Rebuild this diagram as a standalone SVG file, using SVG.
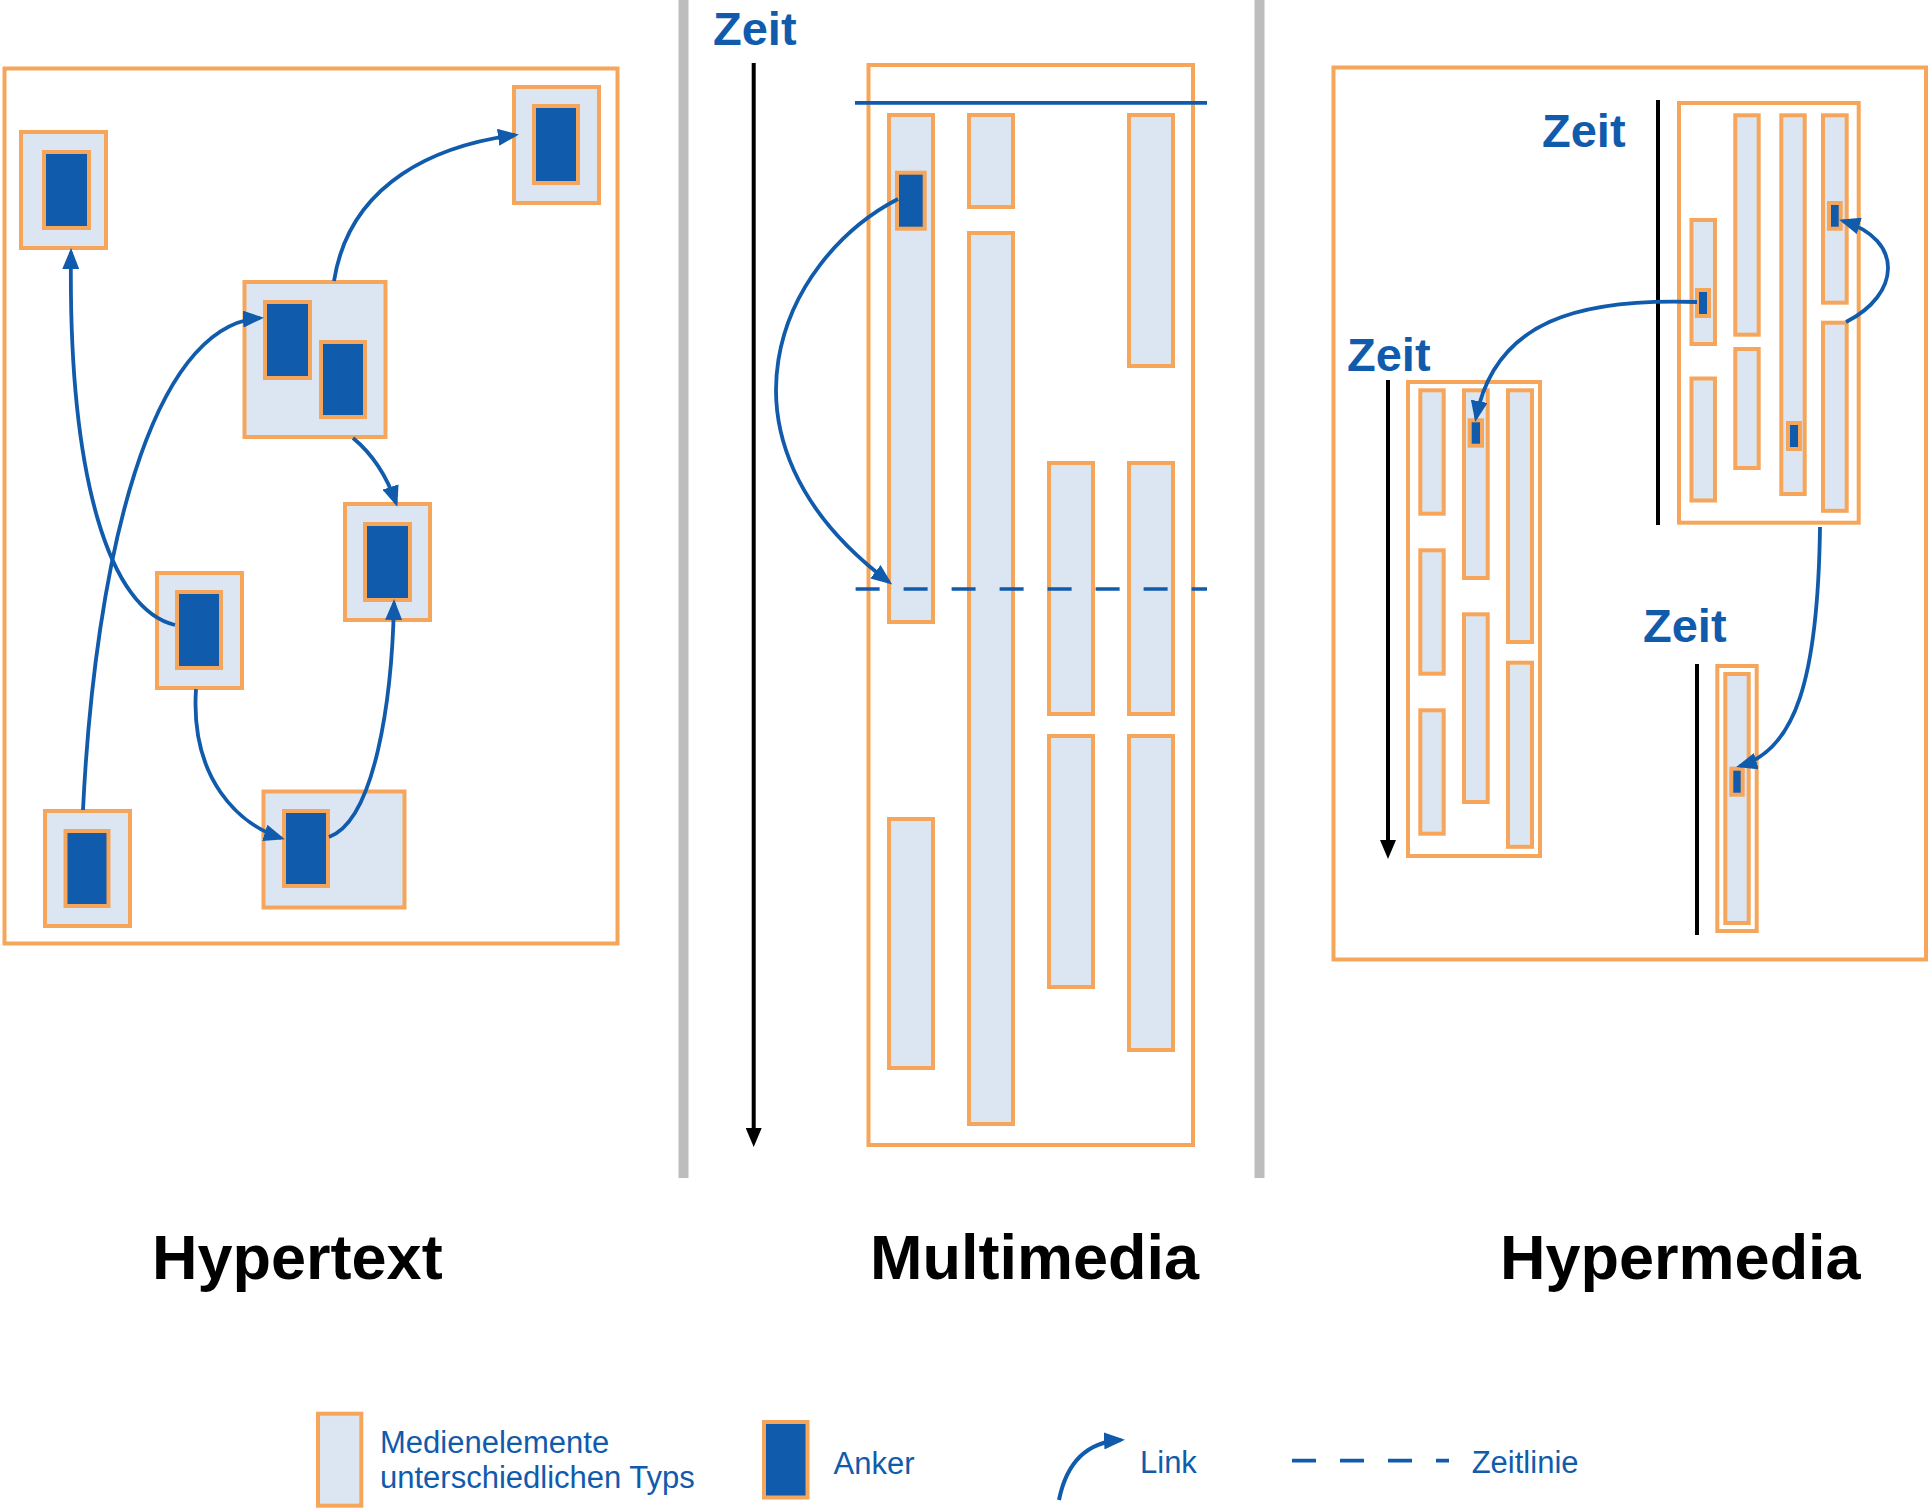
<svg xmlns="http://www.w3.org/2000/svg" width="1930" height="1508" viewBox="0 0 1930 1508">
<style>
.frame{fill:#ffffff;stroke:#f5a65b;stroke-width:4}
.med{fill:#dce6f2;stroke:#f5a65b;stroke-width:4}
.anc{fill:#105bac;stroke:#f5a65b;stroke-width:4}
.link{fill:none;stroke:#105bac;stroke-width:3.8;marker-end:url(#ah)}
.tl{stroke:#000000;stroke-width:4;fill:none}
.zeit{font-family:"Liberation Sans",Arial,sans-serif;font-weight:bold;font-size:47px;fill:#105bac}
.title{font-family:"Liberation Sans",Arial,sans-serif;font-weight:bold;font-size:63px;fill:#000000}
.leg{font-family:"Liberation Sans",Arial,sans-serif;font-size:31px;fill:#105bac}
.sep{fill:#bdbdbd}
</style>
<defs>
<marker id="ah" viewBox="0 0 21 17" refX="17" refY="8.5" markerWidth="21" markerHeight="17" markerUnits="userSpaceOnUse" orient="auto"><path d="M0,0 L21,8.5 L0,17 z" fill="#105bac"/></marker>
<marker id="bh" viewBox="0 0 16 19" refX="8" refY="0" markerWidth="16" markerHeight="19" markerUnits="userSpaceOnUse" orient="0"><path d="M0,0 L16,0 L8,19 z" fill="#000000"/></marker>
</defs>
<rect width="1930" height="1508" fill="#ffffff"/>
<g id="separators">
<rect class="sep" x="678.5" y="0" width="10" height="1178"/>
<rect class="sep" x="1254.5" y="0" width="10" height="1178"/>
</g>

<g id="hypertext">
<rect class="frame" x="4.5" y="68.5" width="613" height="875"/>
<g id="ht-e1"><rect class="med" x="21" y="132" width="85" height="116"/><rect class="anc" x="44" y="152" width="45" height="76"/></g>
<g id="ht-e2"><rect class="med" x="514" y="87" width="85" height="116"/><rect class="anc" x="534" y="106" width="44" height="77"/></g>
<g id="ht-e3"><rect class="med" x="244.5" y="282" width="141" height="155"/><rect class="anc" x="265" y="302" width="45" height="76"/><rect class="anc" x="321" y="342" width="44" height="75"/></g>
<g id="ht-e4"><rect class="med" x="345" y="504" width="85" height="116"/><rect class="anc" x="365" y="524" width="45" height="76"/></g>
<g id="ht-e5"><rect class="med" x="157" y="573" width="85" height="115"/><rect class="anc" x="177" y="592" width="44" height="76"/></g>
<g id="ht-e6"><rect class="med" x="45" y="811" width="85" height="115"/><rect class="anc" x="65.5" y="831" width="43" height="75"/></g>
<g id="ht-e7"><rect class="med" x="263.5" y="791.5" width="141" height="116"/><rect class="anc" x="284" y="811" width="44" height="75"/></g>
<text class="title" x="152" y="1279">Hypertext</text>
</g>

<g id="multimedia">
<rect class="frame" x="868.5" y="65" width="324.5" height="1080"/>
<line class="tl" x1="753.7" y1="63" x2="753.7" y2="1128" marker-end="url(#bh)"/>
<text class="zeit" x="713" y="45">Zeit</text>
<g id="mm-c1"><rect class="med" x="889" y="115" width="44" height="507"/><rect class="med" x="889" y="819" width="44" height="249"/><rect class="anc" x="897" y="172.7" width="27.7" height="56"/></g>
<g id="mm-c2"><rect class="med" x="969" y="115" width="44" height="92"/><rect class="med" x="969" y="233" width="44" height="891"/></g>
<g id="mm-c3"><rect class="med" x="1049" y="463" width="44" height="251"/><rect class="med" x="1049" y="736" width="44" height="251"/></g>
<g id="mm-c4"><rect class="med" x="1129" y="115" width="44" height="251"/><rect class="med" x="1129" y="463" width="44" height="251"/><rect class="med" x="1129" y="736" width="44" height="314"/></g>
<line x1="855" y1="102.8" x2="1207" y2="102.8" stroke="#105bac" stroke-width="3.7"/>
<line x1="855.6" y1="589" x2="1207" y2="589" stroke="#105bac" stroke-width="3.7" stroke-dasharray="24 24"/>
<text class="title" x="870" y="1279">Multimedia</text>
</g>

<g id="hypermedia">
<rect class="frame" x="1333.5" y="67.5" width="592.5" height="892"/>
<g id="hm-top">
<line class="tl" x1="1658" y1="100" x2="1658" y2="525"/>
<text class="zeit" x="1542" y="147">Zeit</text>
<rect class="frame" x="1679" y="103" width="179.7" height="419.7"/>
<rect class="med" x="1691.5" y="220" width="23.5" height="124"/>
<rect class="med" x="1691.5" y="378.5" width="23.5" height="122"/>
<rect class="med" x="1735.3" y="115.3" width="23.4" height="219.4"/>
<rect class="med" x="1735.3" y="349" width="23.4" height="119"/>
<rect class="med" x="1781.3" y="115.3" width="23.4" height="378.7"/>
<rect class="med" x="1823" y="115.3" width="23.7" height="187.4"/>
<rect class="med" x="1823" y="322.7" width="23.7" height="188.1"/>
<rect class="anc" x="1697" y="290" width="12" height="26"/>
<rect class="anc" x="1788" y="423" width="12" height="26"/>
<rect class="anc" x="1829" y="203" width="11.7" height="25.7"/>
</g>
<g id="hm-left">
<line class="tl" x1="1388" y1="380" x2="1388" y2="840" marker-end="url(#bh)"/>
<text class="zeit" x="1347" y="371">Zeit</text>
<rect class="frame" x="1408" y="382" width="132" height="474"/>
<rect class="med" x="1420.3" y="390.3" width="23.4" height="123.4"/>
<rect class="med" x="1420.3" y="550.3" width="23.4" height="123.4"/>
<rect class="med" x="1420.3" y="710.3" width="23.4" height="123.4"/>
<rect class="med" x="1464" y="390.3" width="23.7" height="187.7"/>
<rect class="med" x="1464" y="614.3" width="23.7" height="187.7"/>
<rect class="med" x="1508" y="390.3" width="24" height="251.7"/>
<rect class="med" x="1508" y="662.7" width="24" height="184.1"/>
<rect class="anc" x="1469.7" y="420.3" width="12.3" height="25.4"/>
</g>
<g id="hm-bottom">
<line class="tl" x1="1697" y1="664" x2="1697" y2="935"/>
<text class="zeit" x="1643" y="642">Zeit</text>
<rect class="frame" x="1717.3" y="666" width="39.4" height="265"/>
<rect class="med" x="1725.3" y="674" width="23.4" height="249"/>
<rect class="anc" x="1731.3" y="768.7" width="11.4" height="26"/>
</g>
<text class="title" x="1500" y="1279">Hypermedia</text>
</g>

<g id="connectors">
<path class="link" d="M175,625 C110,610 68,480 71,252"/>
<path class="link" d="M83,810 C95,560 150,325 260,318"/>
<path class="link" d="M334,281 C350,180 440,145 515,135"/>
<path class="link" d="M353,438 Q382,462 396,503"/>
<path class="link" d="M196,689 C190,780 240,825 281,838"/>
<path class="link" d="M329,837 C375,820 392,700 394,603"/>
<path class="link" d="M898,199 C780,260 700,440 889,582"/>
<path class="link" d="M1697,302 C1580,298 1495,320 1476,418"/>
<path class="link" d="M1846,322 C1900,295 1905,240 1843,221"/>
<path class="link" d="M1820,527 C1818,680 1795,750 1740,766"/>
</g>

<g id="legend">
<rect class="med" x="318" y="1413.7" width="43.3" height="92"/>
<text class="leg" x="380" y="1453.3">Medienelemente</text>
<text class="leg" x="380" y="1488.3">unterschiedlichen Typs</text>
<rect class="anc" x="764" y="1422" width="43.5" height="75.5"/>
<text class="leg" x="833.6" y="1474.3">Anker</text>
<path d="M1059,1500 C1066,1465 1085,1442 1121,1440" fill="none" stroke="#105bac" stroke-width="4" marker-end="url(#ah)"/>
<text class="leg" x="1140" y="1473.3">Link</text>
<line x1="1292" y1="1460.7" x2="1449" y2="1460.7" stroke="#105bac" stroke-width="3.7" stroke-dasharray="24 24"/>
<text class="leg" x="1471.7" y="1473.3">Zeitlinie</text>
</g>
</svg>
